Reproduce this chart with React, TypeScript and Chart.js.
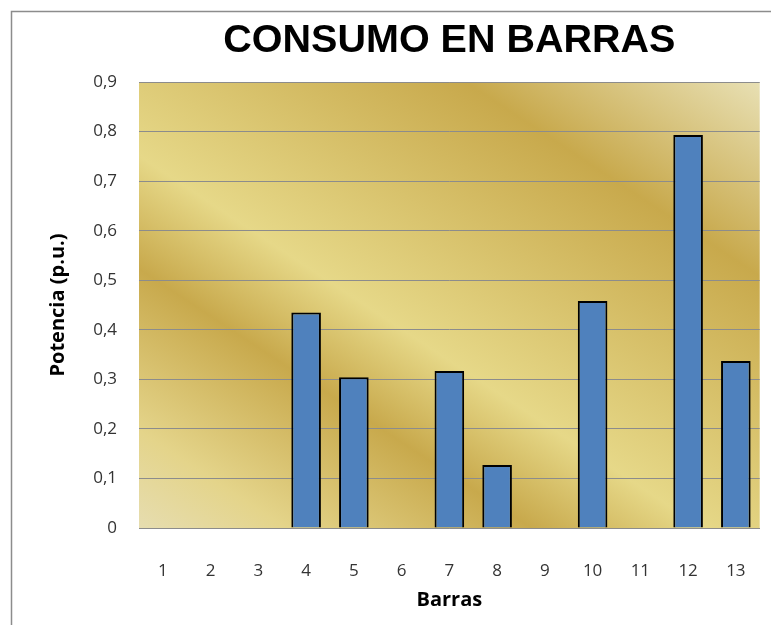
import { useEffect, useRef } from "react";
import { Chart, registerables } from "chart.js";

Chart.register(...registerables);

const chartTitle = "CONSUMO EN BARRAS";
const xTitle = "Barras";
const yTitle = "Potencia (p.u.)";
const categories = ["1", "2", "3", "4", "5", "6", "7", "8", "9", "10", "11", "12", "13"];
const potencia = [0, 0, 0, 0.435, 0.304, 0, 0.317, 0.127, 0, 0.458, 0, 0.793, 0.337];
const yTickLabels = ["0", "0,1", "0,2", "0,3", "0,4", "0,5", "0,6", "0,7", "0,8", "0,9"];

const bgPlugin = {
  id: "goldBg",
  beforeDraw(chart: any) {
    const { ctx, chartArea: a } = chart;
    ctx.save();
    ctx.strokeStyle = "#8c8c8c";
    ctx.lineWidth = 1.5;
    ctx.beginPath();
    ctx.moveTo(11.5, chart.height + 10);
    ctx.lineTo(11.5, 11.5);
    ctx.lineTo(chart.width + 10, 11.5);
    ctx.stroke();
    const dx = 0.551;
    const dy = -0.835;
    const corners = [
      [a.left, a.top],
      [a.right, a.top],
      [a.left, a.bottom],
      [a.right, a.bottom],
    ];
    const ps = corners.map(([x, y]) => (x - a.left) * dx + (y - a.top) * dy);
    const pmin = Math.min(...ps);
    const pmax = Math.max(...ps);
    const g = ctx.createLinearGradient(
      a.left + dx * pmin,
      a.top + dy * pmin,
      a.left + dx * pmax,
      a.top + dy * pmax
    );
    g.addColorStop(0, "#e6ddb0");
    g.addColorStop(0.114, "#e4d48a");
    g.addColorStop(0.303, "#c8a94c");
    g.addColorStop(0.435, "#e6d888");
    g.addColorStop(0.773, "#c8a94c");
    g.addColorStop(1, "#e8e0b4");
    ctx.fillStyle = g;
    ctx.fillRect(a.left, a.top, a.right - a.left, a.bottom - a.top);
    ctx.restore();
  },
};

export default function App() {
  const ref = useRef<HTMLCanvasElement | null>(null);

  useEffect(() => {
    if (!ref.current) return;
    const chart = new Chart(ref.current, {
      type: "bar",
      data: {
        labels: categories,
        datasets: [
          {
            data: potencia,
            backgroundColor: "#4f81bd",
            borderColor: "#000000",
            borderWidth: 2,
            categoryPercentage: 1,
            barPercentage: 0.62,
          },
        ],
      },
      options: {
        animation: false,
        responsive: false,
        layout: { padding: { left: 0, right: 6, top: 0, bottom: 0 } },
        plugins: {
          legend: { display: false },
          tooltip: { enabled: false },
          title: {
            display: true,
            text: chartTitle,
            fullSize: false,
            color: "#000000",
            font: { family: "'Liberation Sans', Arial, sans-serif", size: 39.5, weight: "bold" },
            padding: { top: 17, bottom: 17.6 },
          },
        },
        scales: {
          x: {
            grid: { display: false },
            border: { display: true, color: "#8c8c8c", width: 1 },
            ticks: {
              padding: 25,
              color: "#333333",
              font: { family: "'Open Sans', sans-serif", size: 17 },
            },
            title: {
              display: true,
              text: xTitle,
              color: "#000000",
              font: { family: "'Open Sans', sans-serif", size: 20, weight: "bold" },
              padding: { top: 0, bottom: 13 },
            },
            afterFit(s: any) {
              s.height = 97;
            },
          },
          y: {
            min: 0,
            max: 0.9,
            ticks: {
              stepSize: 0.1,
              padding: 22,
              color: "#333333",
              font: { family: "'Open Sans', sans-serif", size: 17 },
              callback: (_v: any, i: number) => yTickLabels[i],
            },
            grid: { color: "#8c8c8c", lineWidth: 1, drawTicks: false },
            border: { display: false },
            title: {
              display: true,
              text: yTitle,
              color: "#000000",
              font: { family: "'Open Sans', sans-serif", size: 20, weight: "bold" },
              padding: { top: 46, bottom: 0 },
            },
            afterFit(s: any) {
              s.width = 139;
            },
          },
        },
      },
      plugins: [bgPlugin],
    });
    return () => chart.destroy();
  }, []);

  return (
    <div style={{ position: "absolute", left: 0, top: 0, width: 771, height: 625, background: "#ffffff" }}>
      <canvas ref={ref} width={771} height={625} style={{ display: "block" }} />
    </div>
  );
}
